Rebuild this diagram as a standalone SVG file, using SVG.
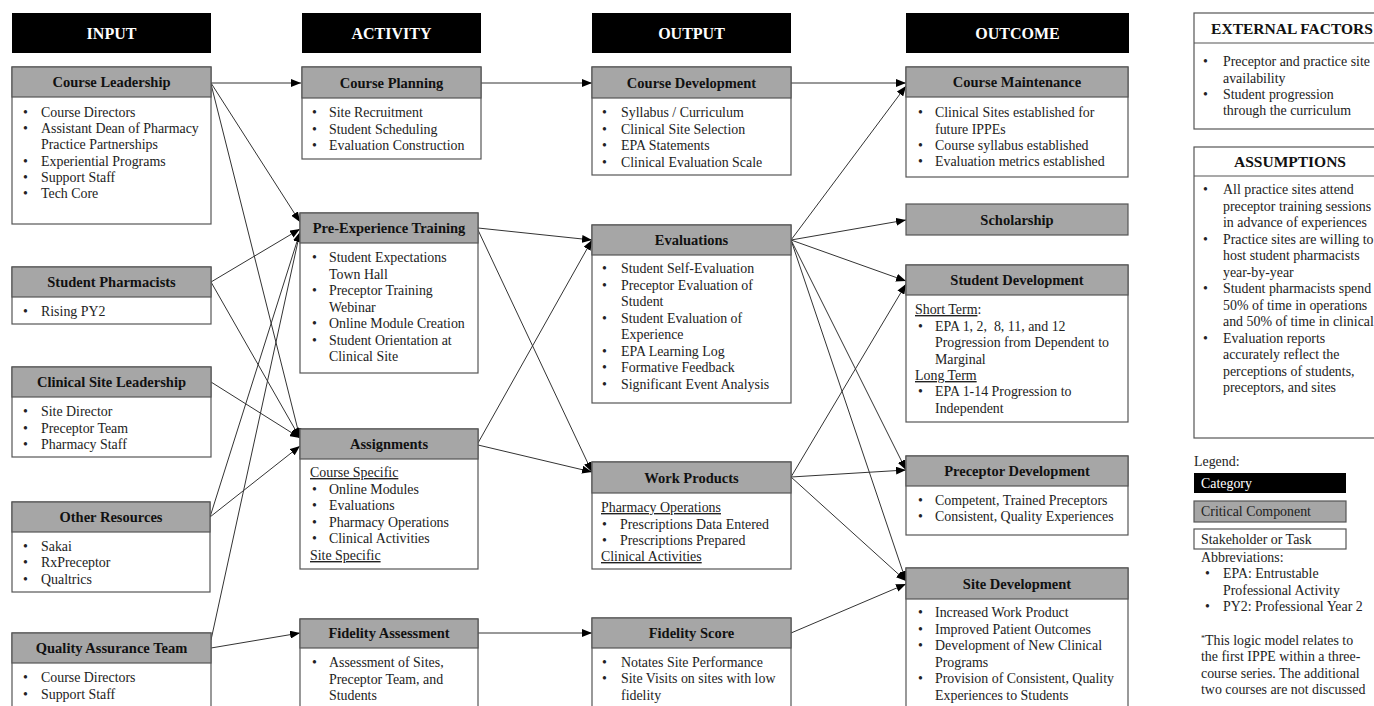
<svg xmlns="http://www.w3.org/2000/svg" width="1374" height="706" viewBox="0 0 1374 706">
<style>
text{font-family:"Liberation Serif","Times New Roman",serif;fill:#222}
.cat{fill:#000}
.ct{fill:#fff;font-size:16px;font-weight:bold;text-anchor:middle}
.bx{fill:#fff;stroke:#555;stroke-width:1.2}
.hd{fill:#a6a6a6;stroke:#555;stroke-width:1.2}
.h{font-size:14.5px;font-weight:bold;text-anchor:middle;fill:#111}
.t{font-size:13.9px}
.u{text-decoration:underline}
.eh{font-size:15.5px;font-weight:bold;text-anchor:middle;fill:#111}
.c{stroke:#333;stroke-width:1;fill:none;marker-end:url(#ah)}
</style>
<defs>
<marker id="ah" viewBox="0 0 10 8" refX="10" refY="4" markerWidth="10" markerHeight="8" markerUnits="userSpaceOnUse" orient="auto">
<path d="M0,0 L10,4 L0,8 Z" fill="#000"/>
</marker>
</defs>
<rect width="1374" height="706" fill="#fff"/>

<g id="cat-input"><rect class="cat" x="12" y="13" width="199" height="40"/><text class="ct" x="111.5" y="39">INPUT</text></g>
<g id="cat-activity"><rect class="cat" x="302" y="13" width="179" height="40"/><text class="ct" x="391.5" y="39">ACTIVITY</text></g>
<g id="cat-output"><rect class="cat" x="592" y="13" width="199" height="40"/><text class="ct" x="691.5" y="39">OUTPUT</text></g>
<g id="cat-outcome"><rect class="cat" x="906" y="13" width="223" height="40"/><text class="ct" x="1017.5" y="39">OUTCOME</text></g>

<g id="connectors">
<line class="c" x1="211" y1="83" x2="301" y2="83"/>
<line class="c" x1="211" y1="83" x2="300" y2="222"/>
<line class="c" x1="211" y1="84" x2="300" y2="438"/>
<line class="c" x1="211" y1="282" x2="300" y2="229"/>
<line class="c" x1="211" y1="282" x2="300" y2="438"/>
<line class="c" x1="211" y1="382" x2="300" y2="438"/>
<line class="c" x1="210" y1="517" x2="300" y2="232"/>
<line class="c" x1="210" y1="517" x2="300" y2="446"/>
<line class="c" x1="211" y1="640" x2="300" y2="232"/>
<line class="c" x1="211" y1="648" x2="300" y2="633"/>
<line class="c" x1="481" y1="83" x2="592" y2="83"/>
<line class="c" x1="478" y1="228" x2="592" y2="240"/>
<line class="c" x1="478" y1="230" x2="592" y2="472"/>
<line class="c" x1="478" y1="443" x2="592" y2="240"/>
<line class="c" x1="478" y1="445" x2="592" y2="472"/>
<line class="c" x1="478" y1="633" x2="592" y2="633"/>
<line class="c" x1="791" y1="83" x2="906" y2="83"/>
<line class="c" x1="791" y1="240" x2="906" y2="86"/>
<line class="c" x1="791" y1="240" x2="906" y2="220"/>
<line class="c" x1="791" y1="240" x2="906" y2="281"/>
<line class="c" x1="791" y1="240" x2="906" y2="470"/>
<line class="c" x1="791" y1="240" x2="906" y2="581"/>
<line class="c" x1="791" y1="477" x2="906" y2="284"/>
<line class="c" x1="791" y1="477" x2="906" y2="470"/>
<line class="c" x1="791" y1="477" x2="906" y2="581"/>
<line class="c" x1="791" y1="633" x2="906" y2="584"/>
</g>

<g id="course-leadership">
<rect class="bx" x="12" y="67" width="199" height="157"/><rect class="hd" x="12" y="67" width="199" height="30"/>
<text class="h" x="111.5" y="87">Course Leadership</text>
<text class="t" x="23" y="117">•</text><text class="t" x="41" y="117">Course Directors</text>
<text class="t" x="23" y="133">•</text><text class="t" x="41" y="133">Assistant Dean of Pharmacy</text>
<text class="t" x="41" y="149">Practice Partnerships</text>
<text class="t" x="23" y="166">•</text><text class="t" x="41" y="166">Experiential Programs</text>
<text class="t" x="23" y="182">•</text><text class="t" x="41" y="182">Support Staff</text>
<text class="t" x="23" y="198">•</text><text class="t" x="41" y="198">Tech Core</text>
</g>
<g id="student-pharmacists">
<rect class="bx" x="12" y="267" width="199" height="57"/><rect class="hd" x="12" y="267" width="199" height="30"/>
<text class="h" x="111.5" y="287">Student Pharmacists</text>
<text class="t" x="23" y="316">•</text><text class="t" x="41" y="316">Rising PY2</text>
</g>
<g id="clinical-site-leadership">
<rect class="bx" x="12" y="367" width="199" height="90"/><rect class="hd" x="12" y="367" width="199" height="30"/>
<text class="h" x="111.5" y="387">Clinical Site Leadership</text>
<text class="t" x="23" y="416">•</text><text class="t" x="41" y="416">Site Director</text>
<text class="t" x="23" y="433">•</text><text class="t" x="41" y="433">Preceptor Team</text>
<text class="t" x="23" y="449">•</text><text class="t" x="41" y="449">Pharmacy Staff</text>
</g>
<g id="other-resources">
<rect class="bx" x="12" y="502" width="198" height="90"/><rect class="hd" x="12" y="502" width="198" height="30"/>
<text class="h" x="111" y="522">Other Resources</text>
<text class="t" x="23" y="551">•</text><text class="t" x="41" y="551">Sakai</text>
<text class="t" x="23" y="567">•</text><text class="t" x="41" y="567">RxPreceptor</text>
<text class="t" x="23" y="584">•</text><text class="t" x="41" y="584">Qualtrics</text>
</g>
<g id="quality-assurance-team">
<rect class="bx" x="12" y="633" width="199" height="85"/><rect class="hd" x="12" y="633" width="199" height="30"/>
<text class="h" x="111.5" y="653">Quality Assurance Team</text>
<text class="t" x="23" y="682">•</text><text class="t" x="41" y="682">Course Directors</text>
<text class="t" x="23" y="699">•</text><text class="t" x="41" y="699">Support Staff</text>
</g>

<g id="course-planning">
<rect class="bx" x="302" y="67" width="179" height="92"/><rect class="hd" x="302" y="67" width="179" height="31"/>
<text class="h" x="391.5" y="88">Course Planning</text>
<text class="t" x="312" y="117">•</text><text class="t" x="329" y="117">Site Recruitment</text>
<text class="t" x="312" y="134">•</text><text class="t" x="329" y="134">Student Scheduling</text>
<text class="t" x="312" y="150">•</text><text class="t" x="329" y="150">Evaluation Construction</text>
</g>
<g id="pre-experience-training">
<rect class="bx" x="300" y="213" width="178" height="160"/><rect class="hd" x="300" y="213" width="178" height="30"/>
<text class="h" x="389" y="233">Pre-Experience Training</text>
<text class="t" x="312" y="262">•</text><text class="t" x="329" y="262">Student Expectations</text>
<text class="t" x="329" y="279">Town Hall</text>
<text class="t" x="312" y="295">•</text><text class="t" x="329" y="295">Preceptor Training</text>
<text class="t" x="329" y="312">Webinar</text>
<text class="t" x="312" y="328">•</text><text class="t" x="329" y="328">Online Module Creation</text>
<text class="t" x="312" y="345">•</text><text class="t" x="329" y="345">Student Orientation at</text>
<text class="t" x="329" y="361">Clinical Site</text>
</g>
<g id="assignments">
<rect class="bx" x="300" y="429" width="178" height="140"/><rect class="hd" x="300" y="429" width="178" height="30"/>
<text class="h" x="389" y="449">Assignments</text>
<text class="t u" x="310" y="477">Course Specific</text>
<text class="t" x="312" y="494">•</text><text class="t" x="329" y="494">Online Modules</text>
<text class="t" x="312" y="510">•</text><text class="t" x="329" y="510">Evaluations</text>
<text class="t" x="312" y="527">•</text><text class="t" x="329" y="527">Pharmacy Operations</text>
<text class="t" x="312" y="543">•</text><text class="t" x="329" y="543">Clinical Activities</text>
<text class="t u" x="310" y="560">Site Specific</text>
</g>
<g id="fidelity-assessment">
<rect class="bx" x="300" y="619" width="178" height="100"/><rect class="hd" x="300" y="619" width="178" height="29"/>
<text class="h" x="389" y="638">Fidelity Assessment</text>
<text class="t" x="312" y="667">•</text><text class="t" x="329" y="667">Assessment of Sites,</text>
<text class="t" x="329" y="684">Preceptor Team, and</text>
<text class="t" x="329" y="700">Students</text>
</g>

<g id="course-development">
<rect class="bx" x="592" y="67" width="199" height="108"/><rect class="hd" x="592" y="67" width="199" height="31"/>
<text class="h" x="691.5" y="88">Course Development</text>
<text class="t" x="602" y="117">•</text><text class="t" x="621" y="117">Syllabus / Curriculum</text>
<text class="t" x="602" y="134">•</text><text class="t" x="621" y="134">Clinical Site Selection</text>
<text class="t" x="602" y="150">•</text><text class="t" x="621" y="150">EPA Statements</text>
<text class="t" x="602" y="167">•</text><text class="t" x="621" y="167">Clinical Evaluation Scale</text>
</g>
<g id="evaluations">
<rect class="bx" x="592" y="225" width="199" height="178"/><rect class="hd" x="592" y="225" width="199" height="30"/>
<text class="h" x="691.5" y="245">Evaluations</text>
<text class="t" x="602" y="273">•</text><text class="t" x="621" y="273">Student Self-Evaluation</text>
<text class="t" x="602" y="290">•</text><text class="t" x="621" y="290">Preceptor Evaluation of</text>
<text class="t" x="621" y="306">Student</text>
<text class="t" x="602" y="323">•</text><text class="t" x="621" y="323">Student Evaluation of</text>
<text class="t" x="621" y="339">Experience</text>
<text class="t" x="602" y="356">•</text><text class="t" x="621" y="356">EPA Learning Log</text>
<text class="t" x="602" y="372">•</text><text class="t" x="621" y="372">Formative Feedback</text>
<text class="t" x="602" y="389">•</text><text class="t" x="621" y="389">Significant Event Analysis</text>
</g>
<g id="work-products">
<rect class="bx" x="592" y="462" width="199" height="107"/><rect class="hd" x="592" y="462" width="199" height="31"/>
<text class="h" x="691.5" y="483">Work Products</text>
<text class="t u" x="601" y="512">Pharmacy Operations</text>
<text class="t" x="602" y="529">•</text><text class="t" x="620" y="529">Prescriptions Data Entered</text>
<text class="t" x="602" y="545">•</text><text class="t" x="620" y="545">Prescriptions Prepared</text>
<text class="t u" x="601" y="561">Clinical Activities</text>
</g>
<g id="fidelity-score">
<rect class="bx" x="592" y="618" width="199" height="100"/><rect class="hd" x="592" y="618" width="199" height="30"/>
<text class="h" x="691.5" y="638">Fidelity Score</text>
<text class="t" x="602" y="667">•</text><text class="t" x="621" y="667">Notates Site Performance</text>
<text class="t" x="602" y="683">•</text><text class="t" x="621" y="683">Site Visits on sites with low</text>
<text class="t" x="621" y="700">fidelity</text>
</g>

<g id="course-maintenance">
<rect class="bx" x="906" y="67" width="222" height="110"/><rect class="hd" x="906" y="67" width="222" height="30"/>
<text class="h" x="1017" y="87">Course Maintenance</text>
<text class="t" x="918" y="117">•</text><text class="t" x="935" y="117">Clinical Sites established for</text>
<text class="t" x="935" y="134">future IPPEs</text>
<text class="t" x="918" y="150">•</text><text class="t" x="935" y="150">Course syllabus established</text>
<text class="t" x="918" y="166">•</text><text class="t" x="935" y="166">Evaluation metrics established</text>
</g>
<g id="scholarship">
<rect class="hd" x="906" y="204" width="222" height="31"/>
<text class="h" x="1017" y="225">Scholarship</text>
</g>
<g id="student-development">
<rect class="bx" x="906" y="265" width="222" height="157"/><rect class="hd" x="906" y="265" width="222" height="30"/>
<text class="h" x="1017" y="285">Student Development</text>
<text class="t" x="915" y="314"><tspan class="u">Short Term</tspan>:</text>
<text class="t" x="918" y="331">•</text><text class="t" x="935" y="331" style="white-space:pre">EPA 1, 2,  8, 11, and 12</text>
<text class="t" x="935" y="347">Progression from Dependent to</text>
<text class="t" x="935" y="364">Marginal</text>
<text class="t u" x="915" y="380">Long Term</text>
<text class="t" x="918" y="396">•</text><text class="t" x="935" y="396">EPA 1-14 Progression to</text>
<text class="t" x="935" y="413">Independent</text>
</g>
<g id="preceptor-development">
<rect class="bx" x="906" y="456" width="222" height="79"/><rect class="hd" x="906" y="456" width="222" height="30"/>
<text class="h" x="1017" y="476">Preceptor Development</text>
<text class="t" x="918" y="505">•</text><text class="t" x="935" y="505">Competent, Trained Preceptors</text>
<text class="t" x="918" y="521">•</text><text class="t" x="935" y="521">Consistent, Quality Experiences</text>
</g>
<g id="site-development">
<rect class="bx" x="906" y="568" width="222" height="150"/><rect class="hd" x="906" y="568" width="222" height="31"/>
<text class="h" x="1017" y="589">Site Development</text>
<text class="t" x="918" y="617">•</text><text class="t" x="935" y="617">Increased Work Product</text>
<text class="t" x="918" y="634">•</text><text class="t" x="935" y="634">Improved Patient Outcomes</text>
<text class="t" x="918" y="650">•</text><text class="t" x="935" y="650">Development of New Clinical</text>
<text class="t" x="935" y="667">Programs</text>
<text class="t" x="918" y="683">•</text><text class="t" x="935" y="683">Provision of Consistent, Quality</text>
<text class="t" x="935" y="700">Experiences to Students</text>
</g>

<g id="external-factors">
<rect class="bx" x="1194" y="13" width="190" height="116"/>
<line x1="1194" y1="43" x2="1384" y2="43" stroke="#555" stroke-width="1.2"/>
<text class="eh" x="1292" y="34">EXTERNAL FACTORS</text>
<text class="t" x="1203" y="66">•</text><text class="t" x="1223" y="66">Preceptor and practice site</text>
<text class="t" x="1223" y="83">availability</text>
<text class="t" x="1203" y="99">•</text><text class="t" x="1223" y="99">Student progression</text>
<text class="t" x="1223" y="115">through the curriculum</text>
</g>
<g id="assumptions">
<rect class="bx" x="1194" y="147" width="190" height="291"/>
<line x1="1194" y1="176" x2="1384" y2="176" stroke="#555" stroke-width="1.2"/>
<text class="eh" x="1290" y="167">ASSUMPTIONS</text>
<text class="t" x="1203" y="194">•</text><text class="t" x="1223" y="194">All practice sites attend</text>
<text class="t" x="1223" y="211">preceptor training sessions</text>
<text class="t" x="1223" y="227">in advance of experiences</text>
<text class="t" x="1203" y="244">•</text><text class="t" x="1223" y="244">Practice sites are willing to</text>
<text class="t" x="1223" y="260">host student pharmacists</text>
<text class="t" x="1223" y="277">year-by-year</text>
<text class="t" x="1203" y="293">•</text><text class="t" x="1223" y="293">Student pharmacists spend</text>
<text class="t" x="1223" y="310">50% of time in operations</text>
<text class="t" x="1223" y="326">and 50% of time in clinical</text>
<text class="t" x="1203" y="343">•</text><text class="t" x="1223" y="343">Evaluation reports</text>
<text class="t" x="1223" y="359">accurately reflect the</text>
<text class="t" x="1223" y="376">perceptions of students,</text>
<text class="t" x="1223" y="392">preceptors, and sites</text>
</g>
<g id="legend">
<text class="t" x="1194" y="466">Legend:</text>
<rect x="1194" y="473" width="152" height="20" fill="#000"/>
<text class="t" x="1201" y="488" style="fill:#fff">Category</text>
<rect class="hd" x="1194" y="501" width="152" height="21"/>
<text class="t" x="1201" y="516">Critical Component</text>
<rect class="bx" x="1194" y="529" width="152" height="20"/>
<text class="t" x="1201" y="544">Stakeholder or Task</text>
<text class="t" x="1201" y="562">Abbreviations:</text>
<text class="t" x="1205" y="578">•</text><text class="t" x="1223" y="578">EPA: Entrustable</text>
<text class="t" x="1223" y="595">Professional Activity</text>
<text class="t" x="1205" y="611">•</text><text class="t" x="1223" y="611">PY2: Professional Year 2</text>
<text class="t" x="1201" y="645"><tspan font-size="8" dy="-4">*</tspan><tspan dy="4">This logic model relates to</tspan></text>
<text class="t" x="1201" y="661">the first IPPE within a three-</text>
<text class="t" x="1201" y="678">course series. The additional</text>
<text class="t" x="1201" y="694">two courses are not discussed</text>
</g>
</svg>
